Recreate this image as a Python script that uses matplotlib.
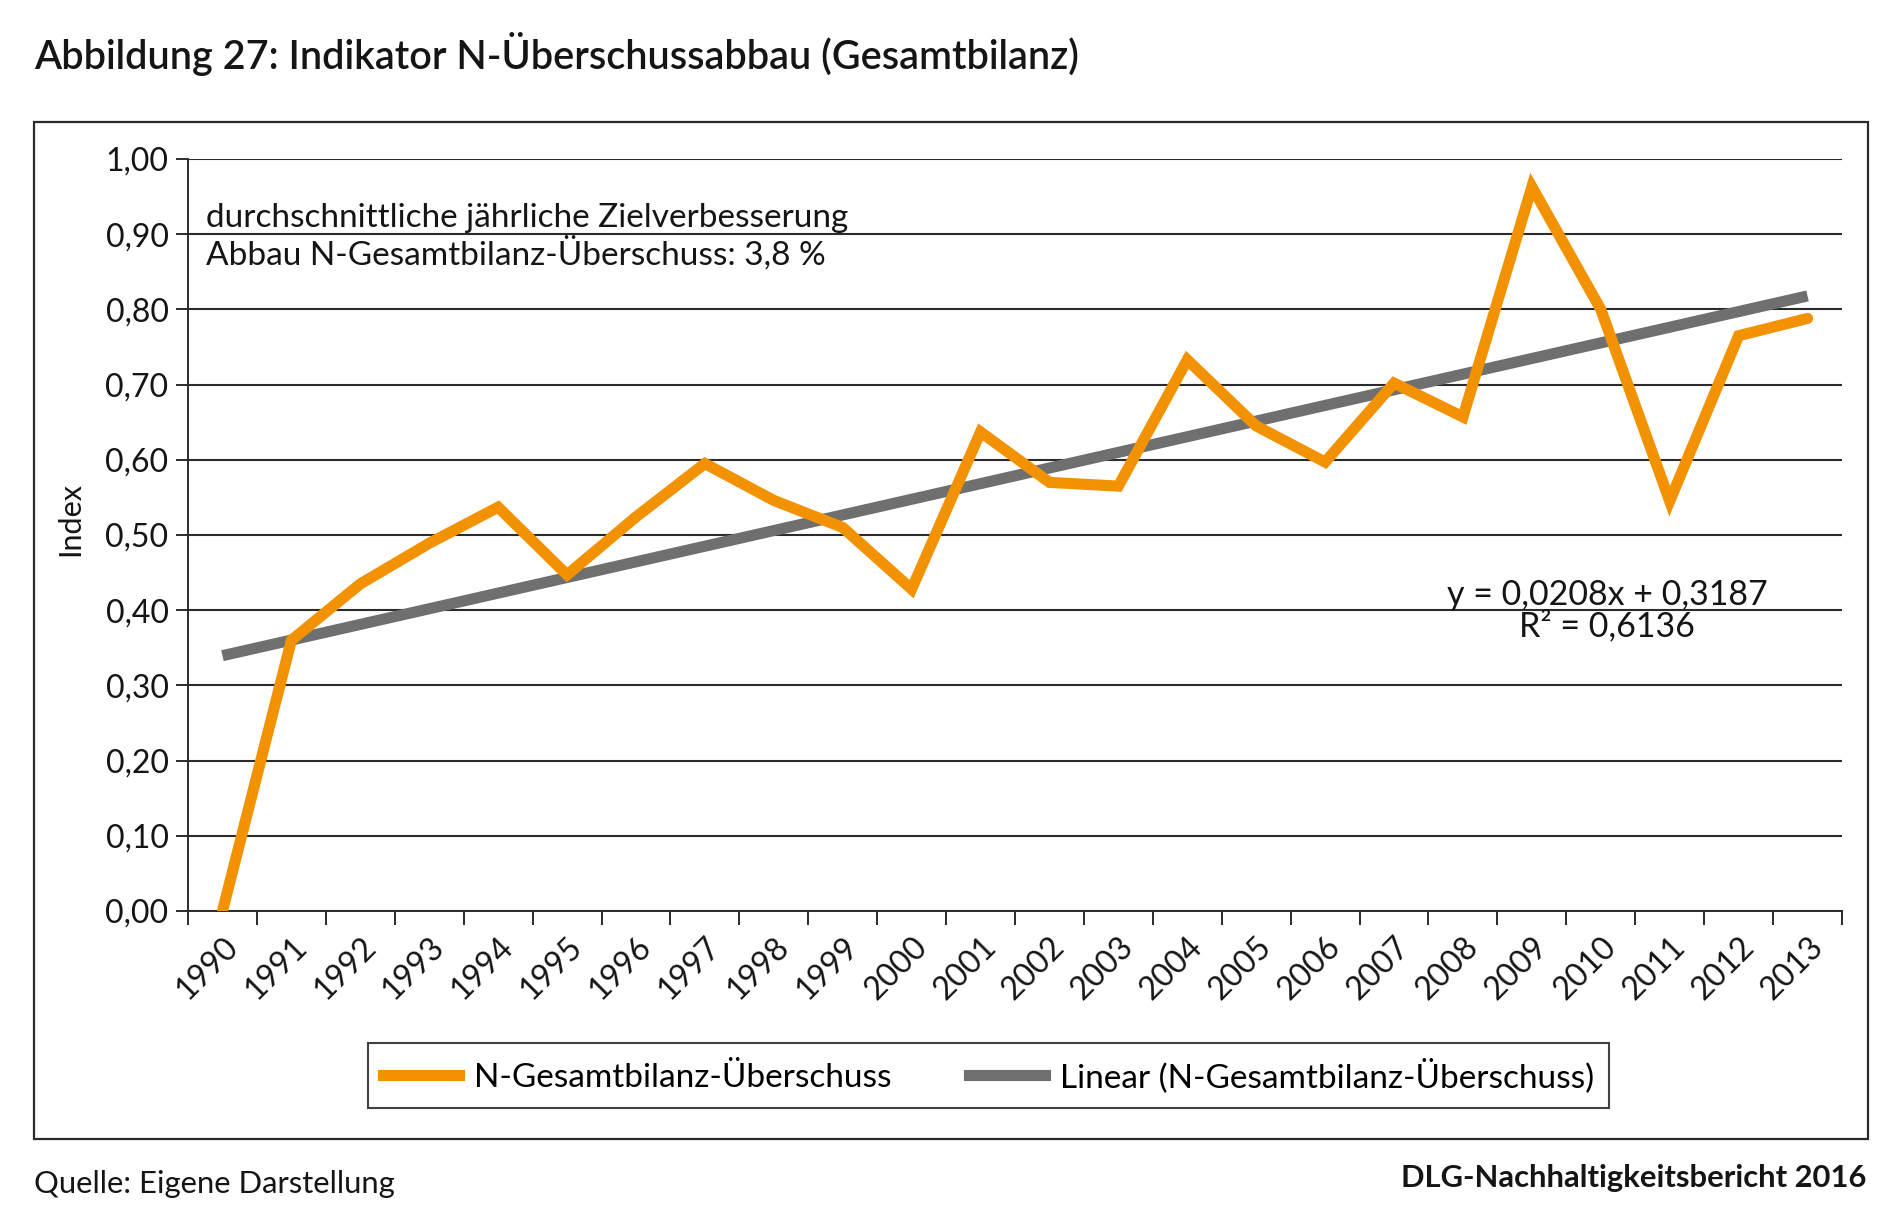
import numpy as np
import matplotlib
matplotlib.use("Agg")
import matplotlib.pyplot as plt
from matplotlib.patches import Rectangle
from matplotlib.lines import Line2D

plt.rcParams['font.family'] = ['Lato', 'DejaVu Sans']

years = [str(y) for y in range(1990, 2014)]
values = [0.000, 0.360, 0.435, 0.489, 0.537, 0.447, 0.524, 0.595, 0.546, 0.510,
          0.428, 0.637, 0.570, 0.565, 0.733, 0.645, 0.597, 0.702, 0.657, 0.963,
          0.800, 0.545, 0.765, 0.788]
trend_slope = 0.0208
trend_intercept = 0.3187
y_ticks = [0.0, 0.1, 0.2, 0.3, 0.4, 0.5, 0.6, 0.7, 0.8, 0.9, 1.0]
y_ticklabels = ["0,00", "0,10", "0,20", "0,30", "0,40", "0,50", "0,60", "0,70", "0,80", "0,90", "1,00"]

title = "Abbildung 27: Indikator N-Überschussabbau (Gesamtbilanz)"
series_name = "N-Gesamtbilanz-Überschuss"
trend_name = "Linear (N-Gesamtbilanz-Überschuss)"
note = "durchschnittliche jährliche Zielverbesserung\nAbbau N-Gesamtbilanz-Überschuss: 3,8 %"
equation = "y = 0,0208x + 0,3187\nR² = 0,6136"
source = "Quelle: Eigene Darstellung"
report = "DLG-Nachhaltigkeitsbericht 2016"

ORANGE = "#F39200"
GREY = "#6F6F6F"
DARK = "#2b2b2b"
TXT = "#151515"

W, H = 1900, 1215
fig = plt.figure(figsize=(W / 100, H / 100), dpi=100)

def fx(px):
    return px / W

def fy(py):
    return 1 - py / H

# outer frame
fig.patches.append(Rectangle((fx(34), fy(1139)), fx(1868) - fx(34), fy(122) - fy(1139),
                             transform=fig.transFigure, fill=False, edgecolor=DARK, lw=1.6))

ax = fig.add_axes([fx(188), fy(911), fx(1842) - fx(188), fy(159) - fy(911)])

x = np.arange(len(years))
trend = trend_slope * (x + 1) + trend_intercept

ax.plot(x, trend, color=GREY, lw=8, solid_capstyle='butt', zorder=3)
ax.plot(x, values, color=ORANGE, lw=8, solid_capstyle='round', solid_joinstyle='miter', zorder=4)

ax.set_xlim(-0.5, len(years) - 0.5)
ax.set_ylim(0, 1.0)

ax.set_yticks(y_ticks)
ax.set_yticklabels(y_ticklabels)
ax.yaxis.grid(True, color=DARK, lw=1.5)
ax.set_axisbelow(True)

ax.set_xticks(np.arange(-0.5, len(years)), labels=[])
ax.set_xticks(x, minor=True)
ax.set_xticklabels(years, minor=True, rotation=45, ha='right', va='top', rotation_mode='anchor')
ax.tick_params(axis='x', which='major', length=10, width=1.4, color=DARK, direction='out')
ax.tick_params(axis='x', which='minor', length=0, pad=15, labelsize=23, labelcolor=TXT)
ax.tick_params(axis='y', length=9, width=1.4, color=DARK, pad=5, labelsize=23, labelcolor=TXT)

for s in ['top', 'right']:
    ax.spines[s].set_visible(False)
for s in ['left', 'bottom']:
    ax.spines[s].set_color(DARK)
    ax.spines[s].set_linewidth(1.4)

fig.text(fx(70), fy(519), "Index", rotation=90, ha='center', va='center', fontsize=22, color=TXT)

fig.text(fx(34), fy(54), title, ha='left', va='center', fontsize=28.5, fontweight='semibold', color=TXT)

fig.text(fx(206), fy(237), note, ha='left', va='center', fontsize=24, color=TXT, linespacing=1.1)
fig.text(fx(1607), fy(611), equation, ha='center', va='center', fontsize=24.5, color=TXT,
         linespacing=0.95, multialignment='center')

handles = [Line2D([], [], color=ORANGE, lw=8), Line2D([], [], color=GREY, lw=8)]
leg = fig.legend(handles, [series_name, trend_name], loc='center',
                 bbox_to_anchor=(fx((361 + 1616) / 2), fy(1075.5)), ncol=2, frameon=True,
                 fancybox=False, fontsize=24, handlelength=2.3, columnspacing=2.3,
                 borderpad=0.45, handletextpad=0.45)
leg.get_frame().set_edgecolor('#111')
leg.get_frame().set_linewidth(1.5)

fig.text(fx(34), fy(1184), source, ha='left', va='center', fontsize=22.3, color=TXT)
fig.text(fx(1866), fy(1178), report, ha='right', va='center', fontsize=22.3, fontweight='bold', color=TXT)

fig.savefig("out.png", dpi=100)
